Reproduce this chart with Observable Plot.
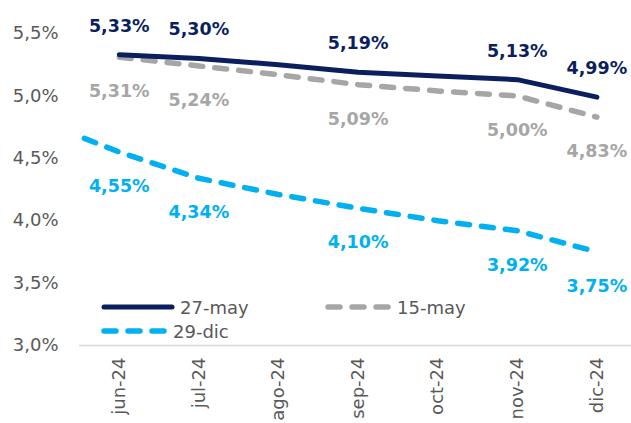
<!DOCTYPE html>
<html><head><meta charset="utf-8">
<script src="https://cdn.jsdelivr.net/npm/d3@7"></script>
<script src="https://cdn.jsdelivr.net/npm/@observablehq/plot@0.6"></script>
<style>
body{margin:0;background:#fff;overflow:hidden}
#chart{position:relative;width:631px;height:423px;font-family:"DejaVu Sans",sans-serif}
#legend{position:absolute;left:0;top:0}
</style>
</head><body><div id="chart"></div>
<script>
// months: "may-24" is the hidden, clipped first point of the 29-dic series
const months = ["may-24","jun-24","jul-24","ago-24","sep-24","oct-24","nov-24","dic-24"];
const tickLabels = ["jun-24","jul-24","ago-24","sep-24","oct-24","nov-24","dic-24"];
const seriesNames = ["27-may","15-may","29-dic"];
const s27may = [null,5.33,5.30,5.25,5.19,5.16,5.13,4.99];
const s15may = [null,5.31,5.24,5.17,5.09,5.04,5.00,4.83];
const s29dic = [4.80,4.55,4.34,4.21,4.10,4.00,3.92,3.75];
const labeledMonths = ["jun-24","jul-24","sep-24","nov-24","dic-24"];
const yTicks = [3.0,3.5,4.0,4.5,5.0,5.5];

const colors = {"27-may":"#0b1f5e","15-may":"#a6a6a6","29-dic":"#00b0f0"};
const rows = [];
[[seriesNames[0],s27may],[seriesNames[1],s15may],[seriesNames[2],s29dic]].forEach(([name,vals])=>{
  vals.forEach((v,i)=>{ if(v!=null) rows.push({series:name, month:months[i], i:i-1, v}); });
});
const fmt = v => v.toFixed(2).replace(".",",")+"%";
const labels = rows.filter(d=>labeledMonths.includes(d.month));

const plot = Plot.plot({
  width:631, height:423,
  marginLeft:79, marginRight:0, marginTop:33, marginBottom:78,
  style:{fontFamily:'"DejaVu Sans",sans-serif', fontSize:"18px", color:"#595959", background:"#fff"},
  x:{type:"linear", domain:[-0.5, 6.435], axis:null},
  y:{domain:[3.0,5.5], axis:null},
  marks:[
    Plot.ruleY([3.0],{stroke:"#d9d9d9", strokeWidth:1.5, clip:false}),
    Plot.axisY(yTicks,{tickSize:0, tickPadding:21, tickFormat:d=>d.toFixed(1).replace(".",",")+"%", fill:"#595959", fontSize:18, label:null}),
    Plot.axisX(d3.range(tickLabels.length),{anchor:"bottom", tickSize:0, tickPadding:12, tickRotate:-90, tickFormat:d=>tickLabels[d], fill:"#595959", fontSize:18, label:null}),
    Plot.line(rows.filter(d=>d.series==="29-dic"),{x:"i", y:"v", stroke:colors["29-dic"], strokeWidth:5.5, strokeDasharray:"12,12", strokeLinecap:"round", clip:true}),
    Plot.line(rows.filter(d=>d.series==="15-may"),{x:"i", y:"v", stroke:colors["15-may"], strokeWidth:5.5, strokeDasharray:"12,12", strokeLinecap:"round", clip:true}),
    Plot.line(rows.filter(d=>d.series==="27-may"),{x:"i", y:"v", stroke:colors["27-may"], strokeWidth:5, strokeLinecap:"round", clip:true}),
    Plot.text(labels.filter(d=>d.series==="27-may"),{x:"i", y:"v", text:d=>fmt(d.v), fill:colors["27-may"], fontWeight:"bold", fontSize:17.5, lineAnchor:"bottom", dy:-23}),
    Plot.text(labels.filter(d=>d.series==="15-may"),{x:"i", y:"v", text:d=>fmt(d.v), fill:colors["15-may"], fontWeight:"bold", fontSize:17.5, lineAnchor:"bottom", dy:40}),
    Plot.text(labels.filter(d=>d.series==="29-dic"),{x:"i", y:"v", text:d=>fmt(d.v), fill:colors["29-dic"], fontWeight:"bold", fontSize:17.5, lineAnchor:"bottom", dy:40})
  ]
});
const chart = document.getElementById("chart");
chart.appendChild(plot);

// legend overlay
const ns = "http://www.w3.org/2000/svg";
const lg = document.createElementNS(ns,"svg");
lg.setAttribute("id","legend"); lg.setAttribute("width","631"); lg.setAttribute("height","423");
const items = [
  {name:seriesNames[0], x:104, y:307, len:68, dash:null},
  {name:seriesNames[1], x:328, y:307, len:61, dash:"12,12"},
  {name:seriesNames[2], x:104, y:331, len:61, dash:"12,12"}
];
items.forEach(it=>{
  const l = document.createElementNS(ns,"line");
  l.setAttribute("x1",it.x); l.setAttribute("x2",it.x+it.len);
  l.setAttribute("y1",it.y); l.setAttribute("y2",it.y);
  l.setAttribute("stroke",colors[it.name]); l.setAttribute("stroke-width",it.dash?5.5:5);
  l.setAttribute("stroke-linecap","round");
  if(it.dash) l.setAttribute("stroke-dasharray",it.dash);
  lg.appendChild(l);
  const t = document.createElementNS(ns,"text");
  t.setAttribute("x",it.x+it.len+8); t.setAttribute("y",it.y+7);
  t.setAttribute("fill","#595959"); t.setAttribute("font-size","18");
  t.setAttribute("font-family",'"DejaVu Sans",sans-serif');
  t.textContent = it.name;
  lg.appendChild(t);
});
chart.appendChild(lg);
</script>
</body></html>
